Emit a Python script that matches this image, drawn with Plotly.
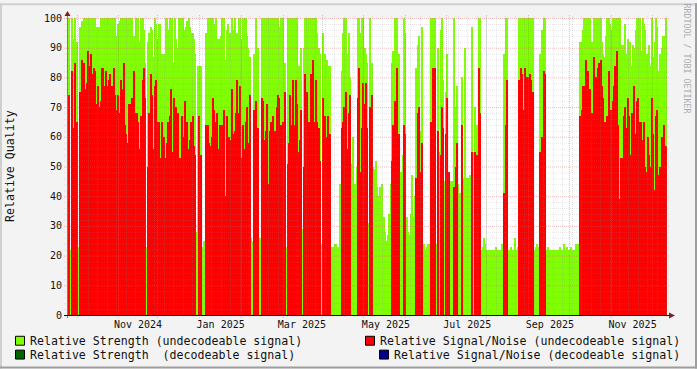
import pandas as pd
import plotly.graph_objects as go

# Daily readings by month: relative strength and relative signal/noise (undecodeable)
strength_2024_09 = [24,87,100,22,100,93]
snr_2024_09 = [0,52,74,0,82,63]
strength_2024_10 = [100,90,92,23,97,99,24,100,100,100,100,100,100,100,100,100,97,97,97,100,100,100,100,99,100,100,100,100,100,100,100]
snr_2024_10 = [85,50,65,0,75,86,0,85,76,78,89,84,88,81,83,82,71,77,70,72,83,83,77,82,77,79,81,77,77,83,74]
strength_2024_11 = [94,98,99,100,100,100,100,100,100,94,100,100,83,94,100,94,100,92,100,100,96,85,23,92,95,97,96,87,100,98]
snr_2024_11 = [69,74,68,79,76,85,64,61,58,71,71,73,47,82,68,68,65,56,67,79,83,73,0,50,68,81,74,56,77,79]
strength_2024_12 = [93,98,98,88,88,88,100,100,96,100,90,100,85,100,93,90,100,100,100,100,96,97,99,100,97,95,95,93,88,28,84]
snr_2024_12 = [65,65,53,65,60,60,53,58,65,67,76,55,73,51,70,68,51,53,67,60,72,51,65,56,59,65,67,57,54,0,0]
strength_2025_01 = [84,84,23,25,23,95,100,95,100,100,100,98,100,93,93,93,94,100,100,86,96,98,95,95,100,96,100,95,95,100,100]
snr_2025_01 = [67,54,0,0,0,64,64,58,57,60,73,69,65,68,56,64,56,64,69,40,67,58,60,59,76,61,62,68,79,68,77]
strength_2025_02 = [93,100,100,100,94,90,87,26,25,88,85,100,90,24,26,100,98,100,100,100,100,93,100,100,100,100,100,100]
snr_2025_02 = [53,64,56,65,70,58,74,0,0,69,52,72,63,0,0,73,72,59,62,71,44,62,65,67,58,62,70,74]
strength_2025_03 = [97,100,100,100,85,23,100,100,100,100,98,100,100,100,84,84,90,29,90,100,100,100,100,100,100,100,100,100,95,90,88]
snr_2025_03 = [73,64,61,65,75,0,51,58,74,64,79,64,79,71,55,59,69,0,50,81,75,65,65,81,76,86,65,79,65,63,52]
strength_2025_04 = [24,95,88,88,86,84,84,23,23,23,24,24,23,22,44,82,95,100,100,88,95,80,51,60,44,44,50,100,100,95]
snr_2025_04 = [0,73,63,67,60,67,61,0,0,0,0,0,0,0,0,63,65,70,75,56,68,74,0,0,0,0,0,73,83,48]
strength_2025_05 = [100,100,90,88,85,31,100,85,50,49,52,43,40,43,37,44,33,28,25,27,34,44,85,89,100,100,100,88,43,48,54]
snr_2025_05 = [63,78,71,78,63,0,70,74,0,0,0,0,0,0,0,0,0,0,0,0,0,0,52,64,72,65,83,61,0,0,0]
strength_2025_06 = [100,95,33,28,27,34,47,33,40,83,91,94,62,97,23,24,22,23,24,24,100,100,95,100,24,90,55,96,100,79]
snr_2025_06 = [64,61,0,0,0,0,0,0,0,46,68,70,48,58,0,0,0,0,0,0,65,83,74,83,0,62,0,54,70,63]
strength_2025_07 = [45,75,88,48,40,45,45,100,70,77,44,41,41,80,46,90,46,46,44,47,97,55,70,55,64,100,100,22,23,26,24]
snr_2025_07 = [0,61,73,48,0,0,0,43,50,58,0,0,0,64,0,0,0,0,0,0,55,0,55,0,54,83,68,0,0,0,0]
strength_2025_08 = [22,22,22,22,21,22,22,23,22,22,22,24,23,88,100,100,22,22,23,22,22,26,22,23,100,100,100,100,100,100,100]
snr_2025_08 = [0,0,0,0,0,0,0,0,0,0,0,0,0,41,64,79,0,0,0,0,0,0,0,0,79,83,81,69,83,78,80]
strength_2025_09 = [100,100,100,100,22,23,24,23,88,86,96,100,100,22,23,22,22,22,21,22,22,22,22,23,22,22,24,22,23,22]
snr_2025_09 = [80,81,79,75,0,0,0,0,55,52,60,82,81,0,0,0,0,0,0,0,0,0,0,0,0,0,0,0,0,0]
strength_2025_10 = [22,23,22,22,22,24,24,23,92,92,96,100,100,97,100,100,89,92,100,100,100,100,100,100,92,88,87,94,100,100,98]
snr_2025_10 = [0,0,0,0,0,0,0,0,67,69,77,77,86,80,82,76,64,68,87,80,80,83,85,86,77,73,65,55,67,82,69]
strength_2025_11 = [96,100,100,100,100,100,100,88,91,91,98,88,93,92,92,84,91,90,96,100,100,100,89,100,98,96,88,85,91,84]
snr_2025_11 = [69,72,77,84,89,64,39,53,53,67,70,63,73,67,54,68,48,77,61,72,73,65,65,59,65,50,48,60,54,50]
strength_2025_12 = [100,87,92,100,97,82,88,90,94,94,100]
snr_2025_12 = [73,61,42,67,69,47,50,60,38,64,57]

months = [
    ("2024-09-25", strength_2024_09, snr_2024_09), ("2024-10-01", strength_2024_10, snr_2024_10),
    ("2024-11-01", strength_2024_11, snr_2024_11), ("2024-12-01", strength_2024_12, snr_2024_12),
    ("2025-01-01", strength_2025_01, snr_2025_01), ("2025-02-01", strength_2025_02, snr_2025_02),
    ("2025-03-01", strength_2025_03, snr_2025_03), ("2025-04-01", strength_2025_04, snr_2025_04),
    ("2025-05-01", strength_2025_05, snr_2025_05), ("2025-06-01", strength_2025_06, snr_2025_06),
    ("2025-07-01", strength_2025_07, snr_2025_07), ("2025-08-01", strength_2025_08, snr_2025_08),
    ("2025-09-01", strength_2025_09, snr_2025_09), ("2025-10-01", strength_2025_10, snr_2025_10),
    ("2025-11-01", strength_2025_11, snr_2025_11), ("2025-12-01", strength_2025_12, snr_2025_12),
]
label_dates = ["2024-11-17", "2025-01-17", "2025-03-18", "2025-05-19", "2025-07-18", "2025-09-17", "2025-11-17"]
label_text = ["Nov 2024", "Jan 2025", "Mar 2025", "May 2025", "Jul 2025", "Sep 2025", "Nov 2025"]
major_grid = ["2024-10-03", "2024-11-02", "2024-12-01", "2025-01-01", "2025-02-01", "2025-03-04", "2025-04-02",
              "2025-05-02", "2025-06-02", "2025-07-02", "2025-08-01", "2025-09-01", "2025-10-01", "2025-11-01", "2025-12-01"]
legend_items = [
    ("Relative Strength (undecodeable signal)", "#7FFF00", 15, 30, 341),
    ("Relative Strength  (decodeable signal)", "#006400", 15, 30, 355),
    ("Relative Signal/Noise (undecodeable signal)", "#FF0000", 365, 380, 341),
    ("Relative Signal/Noise (decodeable signal)", "#00008B", 379, 394, 355),
]

dates, strength, snr = [], [], []
for start, g, r in months:
    for d, gv, rv in zip(pd.date_range(start, periods=len(g), freq="D"), g, r):
        dates.append(d + pd.Timedelta(hours=12))
        strength.append(gv)
        snr.append(rv)
zeros = [0] * len(dates)

W, H = 697, 369
L, R, T, B = 67, 667, 15, 315
px = lambda x: (x - L) / (R - L)
py = lambda y: (B - y) / (B - T)
FONT = "DejaVu Sans Mono"
INK = "#111111"
GRID_MINOR = "rgba(140,140,140,0.2)"
GRID_MAJOR = "rgba(225,95,95,0.42)"
X0 = pd.Timestamp("2024-09-25 15:00")
X1 = pd.Timestamp("2025-12-12 10:00")
snap_x = lambda d: px(round(L + (pd.Timestamp(d) - X0) / (X1 - X0) * (R - L)) + 0.5)

fig = go.Figure()
for name, vals, col in [("Relative Strength (undecodeable signal)", strength, "#7FFF00"),
                        ("Relative Strength (decodeable signal)", zeros, "#006400"),
                        ("Relative Signal/Noise (undecodeable signal)", snr, "#FF0000"),
                        ("Relative Signal/Noise (decodeable signal)", zeros, "#00008B")]:
    fig.add_bar(x=dates, y=vals, name=name, width=86400000, marker=dict(color=col, line=dict(width=0)), showlegend=False)

shapes = []
# bevelled frame
shapes += [
    dict(type="rect", xref="paper", yref="paper", x0=px(0), x1=px(W), y0=py(0), y1=py(2), fillcolor="#CFCFCF", line_width=0, layer="below"),
    dict(type="rect", xref="paper", yref="paper", x0=px(0), x1=px(2), y0=py(0), y1=py(H), fillcolor="#CFCFCF", line_width=0, layer="below"),
    dict(type="rect", xref="paper", yref="paper", x0=px(0), x1=px(W), y0=py(H - 2), y1=py(H), fillcolor="#9E9E9E", line_width=0, layer="below"),
    dict(type="rect", xref="paper", yref="paper", x0=px(W - 2), x1=px(W), y0=py(0), y1=py(H), fillcolor="#9E9E9E", line_width=0, layer="below"),
]
# grid drawn above the bars, as in the original
for v in range(0, 101, 2):
    major = v % 10 == 0
    row = py(B - 3 * v + 0.5)
    shapes.append(dict(type="line", xref="paper", yref="paper", x0=px(64), x1=px(669), y0=row, y1=row, layer="above",
                       line=dict(color=GRID_MAJOR if major else GRID_MINOR, width=1, dash="1px,1px")))
for d in pd.date_range(end="2025-12-12", periods=64, freq="7D"):
    if d < pd.Timestamp("2024-09-27"):
        continue
    sx = snap_x(d)
    shapes.append(dict(type="line", xref="paper", yref="paper", x0=sx, x1=sx, y0=py(317), y1=py(13), layer="above",
                       line=dict(color=GRID_MINOR, width=1, dash="1px,1px")))
for d in major_grid:
    sx = snap_x(d)
    shapes.append(dict(type="line", xref="paper", yref="paper", x0=sx, x1=sx, y0=py(318), y1=py(12), layer="above",
                       line=dict(color=GRID_MAJOR, width=1, dash="1px,1px")))
# axes and arrows
shapes += [
    dict(type="line", xref="paper", yref="paper", x0=px(67.5), x1=px(67.5), y0=py(318), y1=py(10), layer="above", line=dict(color="#808080", width=1)),
    dict(type="line", xref="paper", yref="paper", x0=px(64), x1=px(670), y0=py(315.5), y1=py(315.5), layer="above", line=dict(color="#000060", width=1)),
    dict(type="path", xref="paper", yref="paper", layer="above", fillcolor="#7F1F1F", line_width=0,
         path=f"M {px(64.5)} {py(13)} L {px(70.5)} {py(13)} L {px(67.5)} {py(8)} Z"),
    dict(type="path", xref="paper", yref="paper", layer="above", fillcolor="#7F1F1F", line_width=0,
         path=f"M {px(669)} {py(312.5)} L {px(669)} {py(318.5)} L {px(675)} {py(315.5)} Z"),
]

ann = []
for text, col, sx, tx, cy in legend_items:
    shapes.append(dict(type="rect", xref="paper", yref="paper", x0=px(sx + .5), x1=px(sx + 9.5), y0=py(cy + 4.5), y1=py(cy - 4.5),
                       fillcolor=col, line=dict(color="black", width=1), layer="above"))
    ann.append(dict(text=text, xref="paper", yref="paper", x=px(tx), y=py(cy), xanchor="left", yanchor="middle", showarrow=False,
                    xshift=-2, font=dict(family=FONT, size=11.6, color=INK)))
ann.append(dict(text="Relative Quality", xref="paper", yref="paper", x=px(10), y=py(164.5), textangle=-90, showarrow=False,
                xanchor="center", yanchor="middle", font=dict(family=FONT, size=11.6, color=INK)))
ann.append(dict(text="RRDTOOL / TOBI OETIKER", xref="paper", yref="paper", x=px(687), y=py(56), textangle=90, showarrow=False,
                xanchor="center", yanchor="middle", font=dict(family=FONT, size=8.3, color="#ABABAB")))

fig.update_layout(
    width=W, height=H, autosize=False, margin=dict(l=L, r=W - R, t=T, b=H - B),
    paper_bgcolor="#F3F3F3", plot_bgcolor="#FFFFFF", barmode="overlay", bargap=0,
    font=dict(family=FONT, size=10, color=INK), shapes=shapes, annotations=ann,
    xaxis=dict(type="date", range=[str(X0), str(X1)], tickmode="array", tickvals=label_dates, ticktext=label_text,
               showgrid=False, zeroline=False, ticks="", showline=False, tickangle=0, ticklabelstandoff=2),
    yaxis=dict(range=[0, 100], tickmode="array", tickvals=list(range(0, 101, 10)), showgrid=False, zeroline=False, ticks="", showline=False,
               ticklabelstandoff=4),
)
fig.write_html("out.html", config={"displayModeBar": False},
               post_script="document.body.style.margin='0';document.documentElement.style.overflow='hidden';")
